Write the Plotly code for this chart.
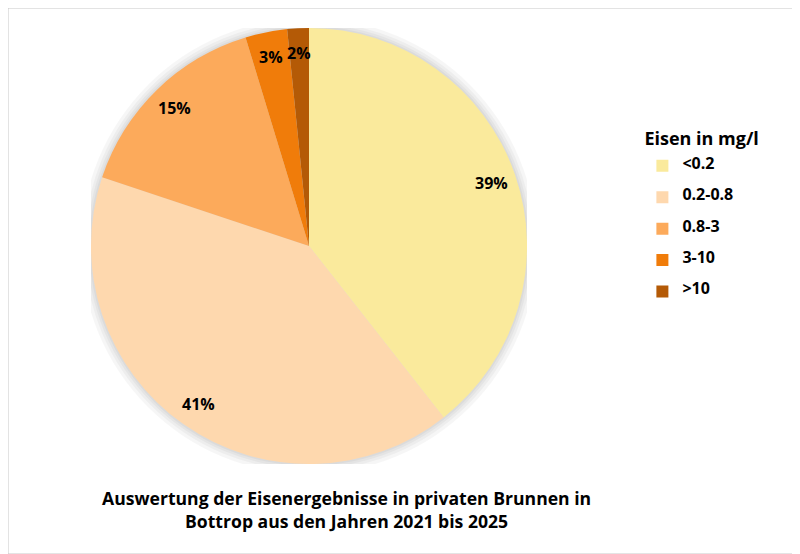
import numpy as np
import plotly.graph_objects as go

# Eisen-Klassen (mg/l) und Anteile in %
klassen = ["<0.2", "0.2-0.8", "0.8-3", "3-10", ">10"]
anteile = [39.4, 40.7, 15.2, 3.1, 1.6]
farben = ["#FAEA9C", "#FED8AE", "#FCAA5B", "#F07C0A", "#B45A06"]

SCHRIFT = "Open Sans"
W, H = 792, 546  # Seite hat 8px Rand

# Legendentext (Leerzeilen drumherum fuer groesseren Zeilenabstand)
leg_text = [f"<br><span style='font-size:16px'>{k}</span><br>" for k in klassen]

# Position der Prozentwerte: Mitte jedes Segments, nahe am Rand
werte = np.array(anteile)
anteil = werte / werte.sum()
mitte = (np.cumsum(anteil) - anteil / 2) * 2 * np.pi
r_lab = 0.885
lab_x = r_lab * np.sin(mitte)
lab_y = r_lab * np.cos(mitte)
lab_txt = [f"{round(p * 100):.0f}%" for p in anteil]

dom_x = [0.1048, 0.6553]
dom_y = [0.1648, 0.9634]

fig = go.Figure()
fig.add_trace(go.Pie(
    labels=leg_text,
    values=anteile,
    sort=False,
    direction="clockwise",
    rotation=0,
    marker=dict(colors=farben, line=dict(width=0)),
    textinfo="none",
    hoverinfo="percent",
    domain=dict(x=dom_x, y=dom_y),
))

fig.update_xaxes(domain=dom_x, range=[-1, 1], visible=False, fixedrange=True)
fig.update_yaxes(domain=dom_y, range=[-1, 1], visible=False, fixedrange=True)

# weicher Schatten um den Kreis
schatten = [dict(type="circle", xref="x", yref="y", layer="below",
                 x0=-r, y0=-r, x1=r, y1=r,
                 fillcolor="rgba(0,0,0,0.035)", line=dict(width=0))
            for r in (1.045, 1.03, 1.018, 1.008)]

prozente = [dict(x=x, y=y, xref="x", yref="y", text=t, showarrow=False,
                 font=dict(family=SCHRIFT, size=16, color="black", weight="bold"))
            for x, y, t in zip(lab_x, lab_y, lab_txt)]

fig.update_layout(
    width=W, height=H,
    margin=dict(l=0, r=0, t=0, b=0),
    paper_bgcolor="white",
    plot_bgcolor="rgba(0,0,0,0)",
    font=dict(family=SCHRIFT, color="black"),
    legend=dict(
        title=dict(text="Eisen in mg/l", font=dict(size=18, weight="bold")),
        font=dict(size=7.3, weight="bold"),
        x=0.801, y=0.792, xanchor="left", yanchor="top",
    ),
    annotations=prozente + [dict(
        text="Auswertung der Eisenergebnisse in privaten Brunnen in<br>Bottrop aus den Jahren 2021 bis 2025",
        x=0.427, y=0.0806, xref="paper", yref="paper",
        xanchor="center", yanchor="middle", showarrow=False,
        font=dict(size=17.6, weight="bold"),
    )],
    shapes=schatten + [dict(type="rect", xref="paper", yref="paper", x0=0, y0=0, x1=1, y1=1,
                            line=dict(color="#C8C8C8", width=1))],
)

fig.write_html("out.html")
